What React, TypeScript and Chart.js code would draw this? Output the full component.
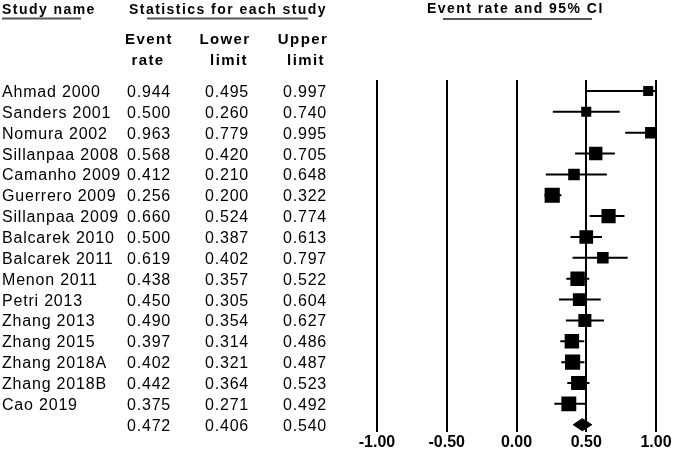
import React, { useEffect, useRef } from "react";
import { Chart, registerables } from "chart.js";

Chart.register(...registerables);

const studyNames = [
  "Ahmad 2000", "Sanders 2001", "Nomura 2002", "Sillanpaa 2008", "Camanho 2009",
  "Guerrero 2009", "Sillanpaa 2009", "Balcarek 2010", "Balcarek 2011", "Menon 2011",
  "Petri 2013", "Zhang 2013", "Zhang 2015", "Zhang 2018A", "Zhang 2018B", "Cao 2019",
];
const eventRates = [0.944, 0.5, 0.963, 0.568, 0.412, 0.256, 0.66, 0.5, 0.619, 0.438, 0.45, 0.49, 0.397, 0.402, 0.442, 0.375];
const lowerLimits = [0.495, 0.26, 0.779, 0.42, 0.21, 0.2, 0.524, 0.387, 0.402, 0.357, 0.305, 0.354, 0.314, 0.321, 0.364, 0.271];
const upperLimits = [0.997, 0.74, 0.995, 0.705, 0.648, 0.322, 0.774, 0.613, 0.797, 0.522, 0.604, 0.627, 0.486, 0.487, 0.523, 0.492];
// relative study weights (drive the square size)
const studyWeights = [0.66, 0.66, 0.76, 0.88, 0.76, 1.0, 0.93, 0.9, 0.76, 0.95, 0.84, 0.86, 0.95, 1.0, 0.93, 0.98];
const summaryRate = 0.472;
const summaryLower = 0.406;
const summaryUpper = 0.54;
const xTickValues = [-1, -0.5, 0, 0.5, 1];

const FONT = "'Liberation Sans', Arial, sans-serif";

const fmt = (v: number) => v.toFixed(3);

export default function App() {
  const ref = useRef<HTMLCanvasElement | null>(null);

  useEffect(() => {
    if (!ref.current) return;
    const n = studyNames.length;

    const ciData: any[] = [];
    studyNames.forEach((_, i) => {
      ciData.push({ x: lowerLimits[i], y: i });
      ciData.push({ x: upperLimits[i], y: i });
      ciData.push({ x: lowerLimits[i], y: null });
    });

    const squares = eventRates.map((r, i) => ({ x: r, y: i }));
    const squareRadius = studyWeights.map((w) => (15.2 * w) / Math.SQRT2);

    const dH = 0.29;
    const diamond = [
      { x: summaryLower, y: n },
      { x: summaryRate, y: n - dH },
      { x: summaryUpper, y: n },
      { x: summaryRate, y: n + dH },
      { x: summaryLower, y: n },
    ];

    const textPlugin = {
      id: "forestText",
      afterDraw(chart: any) {
        const ctx: CanvasRenderingContext2D = chart.ctx;
        const yScale = chart.scales.y;
        ctx.save();
        ctx.fillStyle = "#000";
        ctx.textBaseline = "alphabetic";

        // headers
        ctx.font = `bold 14px ${FONT}`;
        (ctx as any).letterSpacing = "1.45px";
        ctx.textAlign = "left";
        ctx.fillText("Study name", 2, 14);
        ctx.fillText("Statistics for each study", 129, 14);
        ctx.fillText("Event rate and 95% CI", 427, 13);

        ctx.font = `bold 15px ${FONT}`;
        (ctx as any).letterSpacing = "1.4px";
        ctx.textAlign = "center";
        ctx.fillText("Event", 149, 44);
        ctx.fillText("rate", 148, 65);
        ctx.fillText("Lower", 225, 44);
        ctx.fillText("limit", 229, 65);
        ctx.fillText("Upper", 303, 44);
        ctx.fillText("limit", 306, 65);

        // underlines
        ctx.strokeStyle = "#555";
        ctx.lineWidth = 2;
        ctx.beginPath();
        ctx.moveTo(2, 18.5); ctx.lineTo(81, 18.5);
        ctx.moveTo(147, 18.5); ctx.lineTo(308, 18.5);
        ctx.moveTo(443, 19); ctx.lineTo(592, 19);
        ctx.stroke();

        // rows
        ctx.font = `16px ${FONT}`;
        (ctx as any).letterSpacing = "0.8px";
        ctx.textAlign = "left";
        for (let i = 0; i < n; i++) {
          const y = yScale.getPixelForValue(i) + 6;
          ctx.fillText(studyNames[i], 2, y);
          ctx.fillText(fmt(eventRates[i]), 127, y);
          ctx.fillText(fmt(lowerLimits[i]), 205, y);
          ctx.fillText(fmt(upperLimits[i]), 283, y);
        }
        const ys = yScale.getPixelForValue(n) + 6;
        ctx.fillText(fmt(summaryRate), 127, ys);
        ctx.fillText(fmt(summaryLower), 205, ys);
        ctx.fillText(fmt(summaryUpper), 283, ys);
        ctx.restore();
      },
    };

    const chart = new Chart(ref.current, {
      type: "scatter",
      data: {
        datasets: [
          {
            type: "line",
            data: ciData,
            borderColor: "#000",
            borderWidth: 2,
            pointRadius: 0,
            spanGaps: false,
            fill: false,
          } as any,
          {
            type: "scatter",
            data: squares,
            pointStyle: "rect",
            pointRadius: squareRadius,
            backgroundColor: "#000",
            borderWidth: 0,
          } as any,
          {
            type: "line",
            data: diamond,
            borderColor: "#000",
            backgroundColor: "#000",
            borderWidth: 1,
            pointRadius: 0,
            fill: "shape",
            tension: 0,
          } as any,
        ],
      },
      options: {
        animation: false,
        responsive: false,
        events: [],
        layout: { padding: { left: 377, right: 18, top: 80, bottom: 0 } },
        plugins: { legend: { display: false }, tooltip: { enabled: false } },
        scales: {
          x: {
            type: "linear",
            min: -1,
            max: 1,
            afterBuildTicks: (scale: any) => {
              scale.ticks = xTickValues.map((v) => ({ value: v }));
            },
            ticks: {
              callback: (v: any) => Number(v).toFixed(2),
              font: { family: FONT, size: 16, weight: "bold" },
              color: "#000",
              padding: 1,
              maxRotation: 0,
              autoSkip: false,
            },
            grid: { color: "#000", lineWidth: 2, drawTicks: false },
            border: { display: false },
          },
          y: {
            type: "linear",
            reverse: true,
            min: -0.526,
            max: 16.34,
            display: false,
          },
        },
      } as any,
      plugins: [textPlugin],
    });
    return () => chart.destroy();
  }, []);

  return (
    <div style={{ position: "absolute", left: 0, top: 0, width: 674, height: 453, background: "#fff" }}>
      <canvas ref={ref} width={674} height={453} style={{ display: "block" }} />
    </div>
  );
}
